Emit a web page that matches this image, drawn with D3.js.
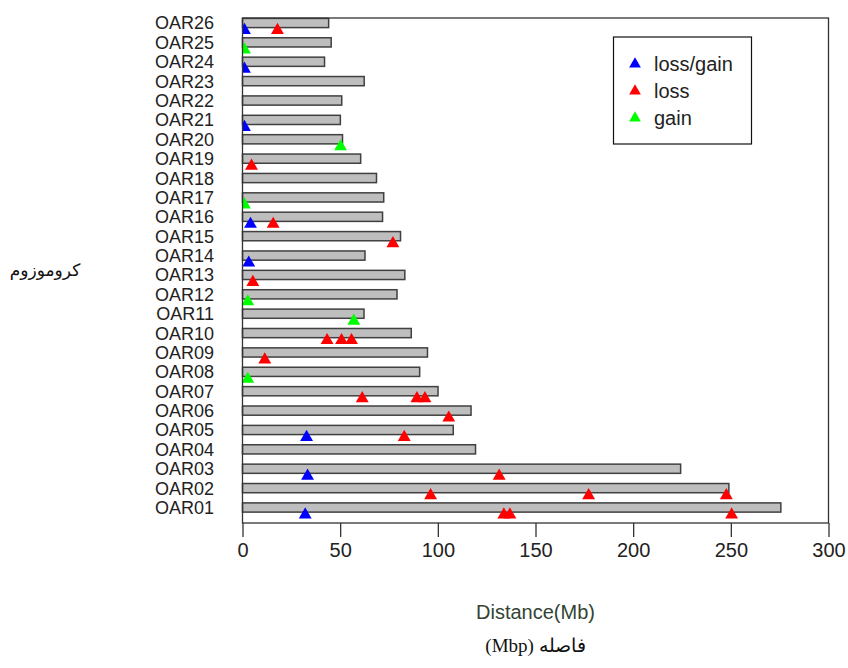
<!DOCTYPE html>
<meta charset="utf-8">
<style>
    body { margin: 0; background: #fff; }
    svg text { font-family: "Liberation Sans", Arial, sans-serif; }
    .bar { fill: #bebebe; stroke: #404040; stroke-width: 1.5; }
    .axis path, .axis line { stroke: #333; stroke-width: 1.3; }
    .axis text { font-size: 20px; fill: #222; }
    .ylab { font-size: 18px; fill: #222; text-anchor: end; }
</style>
<svg width="848" height="668"></svg>

<script src="https://d3js.org/d3.v7.min.js"></script>
<script>
    // chromosomes, bottom to top
    var chroms = ["OAR01", "OAR02", "OAR03", "OAR04", "OAR05", "OAR06", "OAR07", "OAR08", "OAR09",
        "OAR10", "OAR11", "OAR12", "OAR13", "OAR14", "OAR15", "OAR16", "OAR17", "OAR18",
        "OAR19", "OAR20", "OAR21", "OAR22", "OAR23", "OAR24", "OAR25", "OAR26"];
    // chromosome length (Mb)
    var lengths = [275.6, 249.0, 224.3, 119.3, 107.9, 117.0, 100.1, 90.7, 94.7,
        86.4, 62.2, 79.1, 83.1, 62.7, 80.9, 71.7, 72.3, 68.6,
        60.5, 51.2, 50.1, 50.8, 62.3, 42.0, 45.4, 44.1];
    // CNV positions (Mb) per type
    var lossGainChr = ["OAR26", "OAR24", "OAR21", "OAR16", "OAR14", "OAR05", "OAR03", "OAR01"];
    var lossGainPos = [1, 1, 1, 4.1, 3.2, 32.8, 33.3, 32.1];
    var lossChr = ["OAR26", "OAR19", "OAR16", "OAR15", "OAR13", "OAR10", "OAR10", "OAR10", "OAR09",
        "OAR07", "OAR07", "OAR07", "OAR06", "OAR05", "OAR03", "OAR02", "OAR02", "OAR02",
        "OAR01", "OAR01", "OAR01"];
    var lossPos = [17.9, 4.6, 15.7, 77, 5.3, 43.3, 50.7, 55.8, 11.4,
        61.3, 89.3, 93.4, 105.6, 82.8, 131.4, 96.3, 177.2, 247.7,
        133.8, 136.9, 250.4];
    var gainChr = ["OAR25", "OAR20", "OAR17", "OAR12", "OAR11", "OAR08"];
    var gainPos = [1, 50.2, 1, 2.7, 57, 2.7];
    var xTicks = [0, 50, 100, 150, 200, 250, 300];
    var legendNames = ["loss/gain", "loss", "gain"];
    var legendColors = ["#0000ff", "#ff0000", "#00ff00"];

    var svg = d3.select("svg"),
        pLeft = 242.5, pRight = 828.5, pTop = 18, pBottom = 523;

    var x = d3.scaleLinear().domain([0, 300]).range([pLeft, pRight]);
    var y = d3.scalePoint().domain(chroms).range([507.5, 23]);

    svg.append("clipPath").attr("id", "plotclip")
        .append("rect").attr("x", pLeft).attr("y", pTop)
        .attr("width", pRight - pLeft).attr("height", pBottom - pTop);

    // bars
    svg.append("g").selectAll("rect")
        .data(chroms)
        .enter().append("rect")
        .attr("class", "bar")
        .attr("x", x(0))
        .attr("y", function(d) { return y(d) - 4.6; })
        .attr("width", function(d, i) { return x(lengths[i]) - x(0); })
        .attr("height", 9.2);

    // chromosome labels
    svg.append("g").selectAll("text")
        .data(chroms)
        .enter().append("text")
        .attr("class", "ylab")
        .attr("x", 214)
        .attr("y", function(d) { return y(d); })
        .attr("dy", "0.36em")
        .text(function(d) { return d; });

    // triangles
    var tri = d3.symbol().type(d3.symbolTriangle).size(72);
    function drawPoints(chr, pos, color) {
        svg.append("g").attr("clip-path", "url(#plotclip)")
            .selectAll("path")
            .data(pos)
            .enter().append("path")
            .attr("d", tri)
            .attr("fill", color)
            .attr("transform", function(d, i) { return "translate(" + x(d) + "," + (y(chr[i]) + 7.3) + ")"; });
    }
    drawPoints(lossGainChr, lossGainPos, legendColors[0]);
    drawPoints(lossChr, lossPos, legendColors[1]);
    drawPoints(gainChr, gainPos, legendColors[2]);

    // frame
    svg.append("rect")
        .attr("x", pLeft).attr("y", pTop)
        .attr("width", pRight - pLeft).attr("height", pBottom - pTop)
        .attr("fill", "none").attr("stroke", "#333").attr("stroke-width", 1.3);

    // x axis
    var xAxis = svg.append("g")
        .attr("class", "axis")
        .attr("transform", "translate(0," + pBottom + ")")
        .call(d3.axisBottom(x).tickValues(xTicks).tickSize(14).tickPadding(6).tickSizeOuter(0));
    xAxis.select(".domain").remove();

    svg.append("text")
        .attr("x", x(150)).attr("y", 612)
        .attr("text-anchor", "middle")
        .attr("dy", "0.35em")
        .style("font-size", "20px")
        .style("fill", "#334433")
        .text("Distance(Mb)");

    svg.append("text")
        .attr("x", x(150)).attr("y", 645)
        .attr("text-anchor", "middle")
        .attr("direction", "rtl")
        .attr("dy", "0.35em")
        .style("font-family", "'Liberation Serif', 'DejaVu Serif', serif")
        .style("font-size", "19px")
        .style("fill", "#111")
        .text("فاصله (Mbp)");

    svg.append("text")
        .attr("x", 45).attr("y", 270)
        .attr("text-anchor", "middle")
        .attr("direction", "rtl")
        .attr("dy", "0.35em")
        .style("font-family", "'DejaVu Sans', sans-serif")
        .style("font-size", "17px")
        .style("fill", "#111")
        .text("کروموزوم");

    // legend
    var legend = svg.append("g");
    legend.append("rect")
        .attr("x", 613.5).attr("y", 37)
        .attr("width", 138).attr("height", 107)
        .attr("fill", "#fff").attr("stroke", "#111").attr("stroke-width", 1.2);
    var items = legend.selectAll(".item")
        .data(legendNames)
        .enter().append("g")
        .attr("transform", function(d, i) { return "translate(635," + (64 + i * 27) + ")"; });
    items.append("path")
        .attr("d", d3.symbol().type(d3.symbolTriangle).size(60))
        .attr("fill", function(d, i) { return legendColors[i]; });
    items.append("text")
        .attr("x", 19)
        .attr("dy", "0.35em")
        .style("font-size", "20px")
        .style("fill", "#222")
        .text(function(d) { return d; });
</script>
